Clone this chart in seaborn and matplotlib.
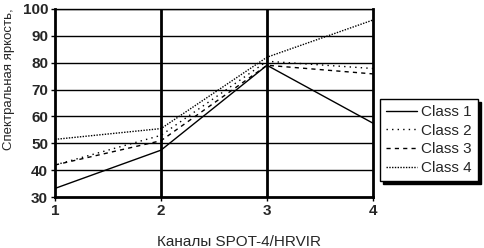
import pandas as pd
import seaborn as sns
import matplotlib.pyplot as plt

channels = [1, 2, 3, 4]
class_1 = [33.3, 47.5, 79.0, 57.5]
class_2 = [42.0, 53.0, 80.5, 77.8]
class_3 = [42.0, 51.0, 79.0, 75.8]
class_4 = [51.5, 55.5, 82.0, 95.8]
class_names = ['Class 1', 'Class 2', 'Class 3', 'Class 4']

df = pd.DataFrame({
    'channel': channels * 4,
    'value': class_1 + class_2 + class_3 + class_4,
    'cls': sum([[c] * 4 for c in class_names], []),
})

sns.set_style('white')
plt.rcParams['font.family'] = ['Liberation Sans', 'DejaVu Sans']

fig = plt.figure(figsize=(4.84, 2.48), dpi=100)
ax = fig.add_axes([55 / 484, 1 - 197.3 / 248, (373 - 55) / 484, (197.3 - 8.7) / 248])

sns.lineplot(data=df, x='channel', y='value', hue='cls', style='cls',
             palette=['black'] * 4, dashes=['', (1, 3), (3, 3), (1, 1)],
             linewidth=1.0, ax=ax, legend=True)

ax.set_xlim(1, 4)
ax.set_ylim(30, 100)
ax.set_xticks(channels)
ax.set_yticks(range(30, 101, 10))
for y in range(40, 101, 10):
    ax.axhline(y, color='black', lw=1.0, zorder=0)
for x in [2, 3]:
    ax.axvline(x, color='black', lw=2.0, zorder=0)

for s in ['left', 'right', 'bottom']:
    ax.spines[s].set_linewidth(2.0)
    ax.spines[s].set_color('black')
ax.spines['top'].set_linewidth(1.0)
ax.spines['top'].set_color('black')

ax.tick_params(axis='both', which='both', direction='out', length=3, width=1,
               color='black', labelsize=11, pad=2, left=True, bottom=True)
for lab in ax.get_xticklabels() + ax.get_yticklabels():
    lab.set_fontweight('bold')

ax.set_xlabel('')
ax.set_ylabel('')
fig.text(239 / 484, 1 - 242 / 248, 'Каналы SPOT-4/HRVIR', ha='center', va='center', fontsize=11)
fig.text(9 / 484, 1 - 150 / 248, 'Спектральная яркость,', rotation=90, ha='center', va='bottom', fontsize=9.5)

handles, labels = ax.get_legend_handles_labels()
leg = ax.legend(handles, labels, loc='upper left', bbox_to_anchor=(380 / 484, 1 - 99 / 248),
                bbox_transform=fig.transFigure, frameon=True, fancybox=False,
                shadow={'color': 'black', 'alpha': 1.0}, fontsize=11,
                handlelength=2.0, handletextpad=0.3, labelspacing=0.3, borderpad=0.4,
                borderaxespad=0)
leg.get_frame().set_edgecolor('black')
leg.get_frame().set_linewidth(1.0)
leg.get_frame().set_alpha(1.0)

fig.savefig('out.png', dpi=100)
